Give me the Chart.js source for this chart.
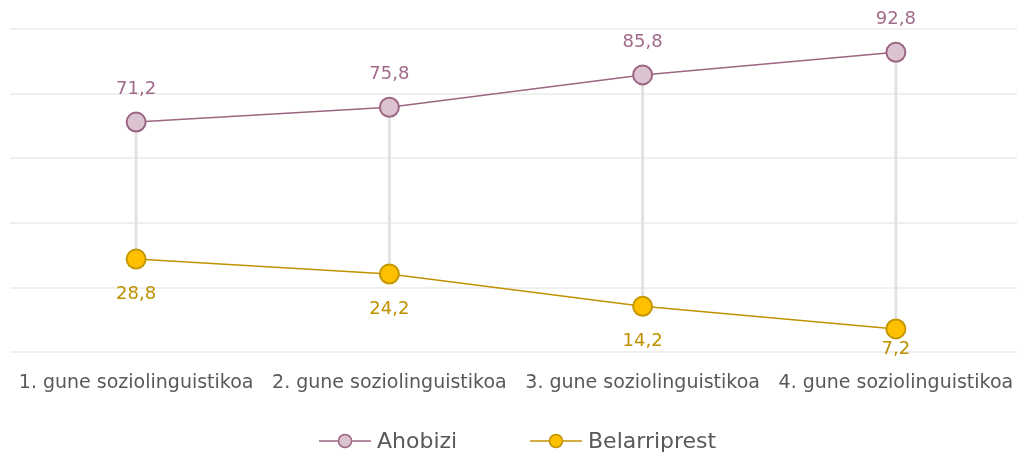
<!DOCTYPE html>
<html>
<head>
<meta charset="utf-8">
<script src="https://cdn.jsdelivr.net/npm/chart.js@4.4.1/dist/chart.umd.min.js"></script>
<style>
  html, body { margin:0; padding:0; background:#fff; overflow:hidden; }
  #wrap { position:relative; width:1036px; height:457px; margin-left:-2px; }
</style>
</head>
<body>
<div id="wrap"><canvas id="c" role="img" aria-label="Ahobizi eta Belarriprest gune soziolinguistikoen arabera"></canvas></div>
<script>
const labels = ['1. gune soziolinguistikoa', '2. gune soziolinguistikoa', '3. gune soziolinguistikoa', '4. gune soziolinguistikoa']
const ahobizi = [71.2, 75.8, 85.8, 92.8]
const belarriprest = [28.8, 24.2, 14.2, 7.2]
const yMin = 0, yMax = 100, yStep = 20

const FONT = '"DejaVu Sans", sans-serif'
const fmt = v => v.toFixed(1).replace('.', ',')

// vertical drop lines between the two series, behind the markers
const dropLines = {
  id: 'dropLines',
  beforeDatasetsDraw(chart) {
    const { ctx } = chart
    const a = chart.getDatasetMeta(0).data, b = chart.getDatasetMeta(1).data
    ctx.save()
    ctx.strokeStyle = '#e3e3e3'
    ctx.lineWidth = 3
    a.forEach((p, i) => {
      ctx.beginPath()
      ctx.moveTo(p.x, p.y)
      ctx.lineTo(b[i].x, b[i].y)
      ctx.stroke()
    })
    ctx.restore()
  }
}

// value labels: above the top series, below the bottom one
const valueLabels = {
  id: 'valueLabels',
  afterDatasetsDraw(chart) {
    const { ctx, chartArea } = chart
    ctx.save()
    ctx.font = '18px ' + FONT
    ctx.textAlign = 'center'
    ctx.textBaseline = 'middle'
    chart.data.datasets.forEach((ds, di) => {
      chart.getDatasetMeta(di).data.forEach((p, i) => {
        ctx.fillStyle = ds.labelColor
        let y = ds.labelPos === 'top' ? p.y - 33 : p.y + 35
        if (ds.labelPos !== 'top') y = Math.min(y, chartArea.bottom - 3)
        ctx.fillText(fmt(ds.data[i]), p.x, y)
      })
    })
    ctx.restore()
  }
}

// bottom legend with line + circle markers
const lineLegend = {
  id: 'lineLegend',
  afterDraw(chart) {
    const { ctx } = chart
    const items = chart.data.datasets
    const y = 441
    const xs = [321, 532]
    ctx.save()
    ctx.font = '22px ' + FONT
    ctx.textBaseline = 'middle'
    items.forEach((ds, i) => {
      const x = xs[i]
      ctx.strokeStyle = ds.borderColor
      ctx.lineWidth = 1.5
      ctx.beginPath(); ctx.moveTo(x, y); ctx.lineTo(x + 52, y); ctx.stroke()
      ctx.beginPath(); ctx.arc(x + 26, y, 6.5, 0, Math.PI * 2)
      ctx.fillStyle = ds.pointBackgroundColor; ctx.fill()
      ctx.lineWidth = 1.5; ctx.stroke()
      ctx.fillStyle = '#595959'
      ctx.fillText(ds.label, x + 58, y + 1)
    })
    ctx.restore()
  }
}

new Chart(document.getElementById('c'), {
  type: 'line',
  data: {
    labels,
    datasets: [
      { label: 'Ahobizi', data: ahobizi, borderColor: '#9c6582', borderWidth: 1.5,
        pointBackgroundColor: '#dcc3d1', pointBorderColor: '#9c6582', pointBorderWidth: 2,
        pointRadius: 9.5, pointHoverRadius: 9.5, tension: 0,
        labelColor: '#a06b8a', labelPos: 'top' },
      { label: 'Belarriprest', data: belarriprest, borderColor: '#c09200', borderWidth: 1.5,
        pointBackgroundColor: '#ffc000', pointBorderColor: '#c49600', pointBorderWidth: 2,
        pointRadius: 9.5, pointHoverRadius: 9.5, tension: 0,
        labelColor: '#bf9000', labelPos: 'bottom' }
    ]
  },
  options: {
    responsive: true, maintainAspectRatio: false, animation: false,
    layout: { padding: { top: 29, left: 0, right: 0, bottom: 52 } },
    plugins: { legend: { display: false }, tooltip: { enabled: false } },
    scales: {
      x: { offset: true,
           grid: { display: false }, border: { display: false },
           ticks: { color: '#595959', font: { family: FONT, size: 19 }, padding: 11,
                    maxRotation: 0, minRotation: 0, autoSkip: false } },
      y: { min: yMin, max: yMax,
           ticks: { display: false, stepSize: yStep },
           border: { display: false },
           grid: { color: '#efefef', lineWidth: 2, drawTicks: false } }
    }
  },
  plugins: [dropLines, valueLabels, lineLegend]
})
</script>
</body>
</html>
